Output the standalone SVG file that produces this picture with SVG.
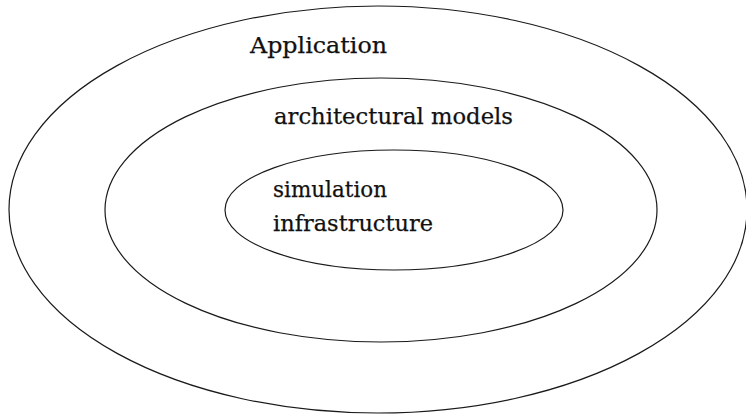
<svg xmlns="http://www.w3.org/2000/svg" width="746" height="414" viewBox="0 0 746 414">
<style>
.ring{fill:none;stroke:#1a1a1a;stroke-width:1.2}
.lbl{font-family:"DejaVu Serif","Liberation Serif",serif;font-size:23px;fill:#111;stroke:#111;stroke-width:0.25}
</style>
<rect width="746" height="414" fill="#fff"/>
<g id="application">
<ellipse class="ring" cx="378" cy="209.5" rx="369" ry="203.5"/>
<text class="lbl" x="250" y="53" textLength="137" lengthAdjust="spacingAndGlyphs">Application</text>
</g>
<g id="architectural-models">
<ellipse class="ring" cx="381" cy="210" rx="276" ry="132"/>
<text class="lbl" x="274" y="124" textLength="239" lengthAdjust="spacingAndGlyphs">architectural models</text>
</g>
<g id="simulation-infrastructure">
<ellipse class="ring" cx="394" cy="210" rx="169" ry="60"/>
<text class="lbl" x="273" y="197" textLength="114" lengthAdjust="spacingAndGlyphs">simulation</text>
<text class="lbl" x="273" y="231" textLength="160" lengthAdjust="spacingAndGlyphs">infrastructure</text>
</g>
<g id="connectors"/>
</svg>
